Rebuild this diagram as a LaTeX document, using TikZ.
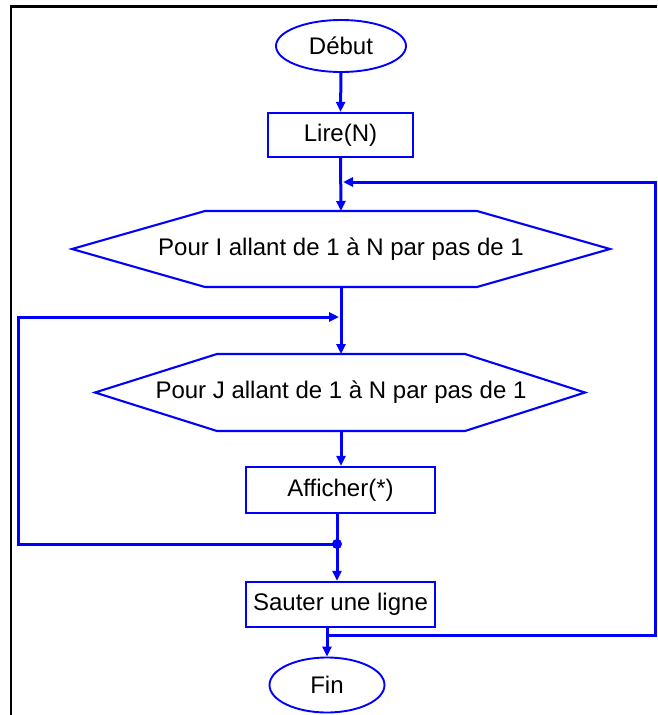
\documentclass[tikz,border=0pt]{standalone}
\usepackage{fontspec}
\setmainfont{Liberation Sans}
\usetikzlibrary{arrows.meta,shapes.geometric,calc}
\definecolor{flowblue}{RGB}{0,0,255}
\begin{document}
\begin{tikzpicture}[x=1pt,y=-1pt,
  every node/.style={font=\fontsize{24}{28}\selectfont, text=black, inner sep=0pt},
  term/.style={ellipse, draw=flowblue, line width=1.9pt},
  stepbox/.style={rectangle, draw=flowblue, line width=2.3pt},
  hexline/.style={draw=flowblue, line width=2.1pt, line join=miter},
  flow/.style={draw=flowblue, line width=3pt, -{Triangle[length=10pt,width=9pt]}},
  plain/.style={draw=flowblue, line width=3pt}]
\useasboundingbox (0,0) rectangle (657,715);

% page frame
\draw[black, line width=2.6pt] (11,715) -- (11,6.5) -- (657,6.5);

% blocks
\node[term, minimum width=130pt, minimum height=52pt] (debut) at (341,46) {Début};
\node[stepbox, minimum width=145pt, minimum height=44pt] (lire) at (340.5,135) {Lire(N)};
\node (pi) at (341,249) {Pour I allant de 1 à N par pas de 1};
\node (pj) at (341,392.5) {Pour J allant de 1 à N par pas de 1};
\node[stepbox, minimum width=189pt, minimum height=46pt] (aff) at (340.5,490) {Afficher(*)};
\node[stepbox, minimum width=189pt, minimum height=45pt] (saut) at (340.5,604.5) {Sauter une ligne};
\node[term, minimum width=115pt, minimum height=55pt] (fin) at (327,685) {Fin};

% hexagonal loop headers, drawn round the centre of their text
\draw[hexline] ($(pi)+(-136,-38)$) -- ($(pi)+(136,-38)$) -- ($(pi)+(269,0)$)
  -- ($(pi)+(136,38)$) -- ($(pi)+(-136,38)$) -- ($(pi)+(-269,0)$) -- cycle;
\draw[hexline] ($(pj)+(-124,-38.5)$) -- ($(pj)+(124,-38.5)$) -- ($(pj)+(244,0)$)
  -- ($(pj)+(124,38.5)$) -- ($(pj)+(-124,38.5)$) -- ($(pj)+(-246,0)$) -- cycle;
\coordinate (pitop) at ($(pi)+(0,-38)$);
\coordinate (pibot) at ($(pi)+(0,38)$);
\coordinate (pjtop) at ($(pj)+(0,-38.5)$);
\coordinate (pjbot) at ($(pj)+(0,38.5)$);

% junction points
\coordinate (outerin) at (343,182);
\coordinate (outercorner) at (655,635);
\coordinate (innerin) at (339,317);
\coordinate (dot) at (337,544);

% main flow
\draw[flow] (debut.south) -- (lire.north);
\draw[flow] (lire.south) -- (pitop);
\draw[flow] (pibot) -- (pjtop);
\draw[flow] (pjbot) -- (pjbot |- aff.north);
\draw[plain] (aff.south -| dot) -- (dot);
\draw[flow] (dot) -- (saut.north -| dot);
\draw[flow] (fin.north |- saut.south) -- (fin.north);

% inner loop return
\draw[flow] (dot) -- (18,544) |- (innerin);
\fill[flowblue] (dot) circle (5pt);

% outer loop return
\draw[flow] (fin.north |- outercorner) -- (outercorner) |- (outerin);
\end{tikzpicture}
\end{document}
